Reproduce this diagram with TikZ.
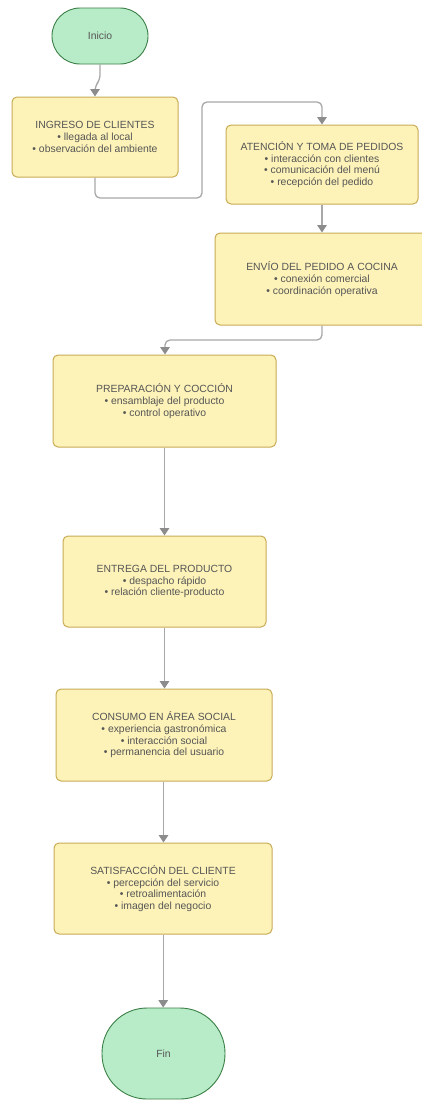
\documentclass[tikz,border=0pt]{standalone}
\usepackage{fontspec}
\setmainfont{Liberation Sans}
\usetikzlibrary{arrows.meta}
\definecolor{txtgray}{HTML}{555555}
\definecolor{linegray}{HTML}{A8A8A8}
\definecolor{tipgray}{HTML}{8C8C8C}
\definecolor{boxfill}{HTML}{FDF3B9}
\definecolor{boxdraw}{HTML}{C9AA55}
\definecolor{termfill}{HTML}{B8ECC9}
\definecolor{termdraw}{HTML}{3A7F45}
\tikzset{
  procbox/.style={draw=boxdraw, fill=boxfill, line width=1pt, rounded corners=5pt,
    inner sep=0pt, align=center, text=txtgray,
    font=\fontsize{10.4}{11.7}\selectfont},
  termbox/.style={draw=termdraw, fill=termfill, line width=0.9pt,
    inner sep=0pt, align=center, text=txtgray,
    font=\fontsize{10.4}{11.7}\selectfont},
  conn/.style={draw=linegray, line width=1.3pt, rounded corners=5pt,
    -{Triangle[width=9.5pt,length=7.5pt,color=tipgray]}},
}
\begin{document}
\begin{tikzpicture}[x=1pt,y=-1pt]
\fill[white] (0,0) rectangle (422,1100);
\useasboundingbox (0,0) rectangle (422,1100);

% terminals
\node[termbox, minimum width=96pt, minimum height=56pt, rounded corners=28pt] (inicio) at (100,36) {Inicio};
\node[termbox, minimum width=123pt, minimum height=91pt, rounded corners=45pt] (fin) at (163.5,1053.5) {Fin};

% process boxes
\node[procbox, minimum width=166pt, minimum height=80pt] (ingreso) at (95,137)
  {INGRESO DE CLIENTES\\ • llegada al local\\ • observación del ambiente};
\node[procbox, minimum width=192pt, minimum height=79pt] (atencion) at (322,164.5)
  {ATENCIÓN Y TOMA DE PEDIDOS\\ • interacción con clientes\\ • comunicación del menú\\ • recepción del pedido};
\node[procbox, minimum width=214pt, minimum height=92pt] (envio) at (322,279)
  {ENVÍO DEL PEDIDO A COCINA\\ • conexión comercial\\ • coordinación operativa};
\node[procbox, minimum width=223pt, minimum height=92pt] (prep) at (164.5,401)
  {PREPARACIÓN Y COCCIÓN\\ • ensamblaje del producto\\ • control operativo};
\node[procbox, minimum width=203pt, minimum height=91pt] (entrega) at (164.5,581.5)
  {ENTREGA DEL PRODUCTO\\ • despacho rápido\\ • relación cliente-producto};
\node[procbox, minimum width=216pt, minimum height=92pt] (consumo) at (164,735)
  {CONSUMO EN ÁREA SOCIAL\\ • experiencia gastronómica\\ • interacción social\\ • permanencia del usuario};
\node[procbox, minimum width=218pt, minimum height=91pt] (satisf) at (163,888.5)
  {SATISFACCIÓN DEL CLIENTE\\ • percepción del servicio\\ • retroalimentación\\ • imagen del negocio};

% connectors
\draw[conn] (inicio.south) -- (100,80) -- (95,86) -- (95,97 |- ingreso.north);
\draw[conn] (ingreso.south) -- (95,198) -- (202,198) -- (202,102) -- (322,102) -- (atencion.north);
\draw[conn] (atencion.south) -- (envio.north);
\draw[conn] (envio.south) -- (322,340) -- (165,340) -- (165,355 |- prep.north);
\draw[conn] (prep.south) -- (entrega.north);
\draw[conn] (164.5,627 |- entrega.south) -- (164.5,689 |- consumo.north);
\draw[conn] (163.5,781 |- consumo.south) -- (163.5,843 |- satisf.north);
\draw[conn] (163.2,934 |- satisf.south) -- (163.2,1008 |- fin.north);
\end{tikzpicture}
\end{document}
